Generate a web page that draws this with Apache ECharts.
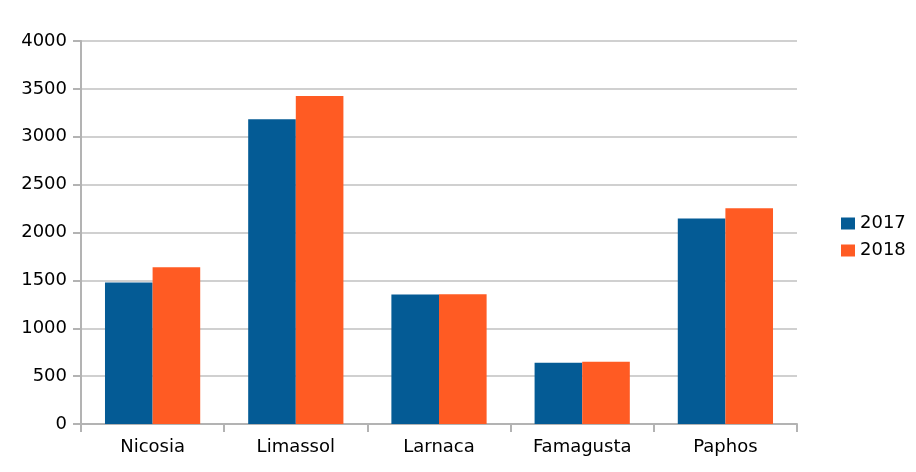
<!DOCTYPE html>
<html>
<head>
<meta charset="utf-8">
<script src="https://cdn.jsdelivr.net/npm/echarts@6/dist/echarts.min.js"></script>
<style>
html,body{margin:0;padding:0;background:#fff;}
#chart{width:916px;height:472px;}
</style>
</head>
<body>
<div id="chart"></div>
<script>
var categories = ['Nicosia', 'Limassol', 'Larnaca', 'Famagusta', 'Paphos'];
var values2017 = [1478, 3182, 1352, 640, 2147];
var values2018 = [1637, 3426, 1356, 650, 2253];
var seriesNames = ['2017', '2018'];
var yTicks = [0, 500, 1000, 1500, 2000, 2500, 3000, 3500, 4000];

var chart = echarts.init(document.getElementById('chart'));
var font = 'DejaVu Sans';
chart.setOption({
  animation: false,
  grid: { left: 81, right: 119, top: 41, bottom: 48, containLabel: false },
  legend: {
    orient: 'vertical',
    left: 841,
    top: 214,
    padding: 0,
    itemWidth: 14,
    itemHeight: 12,
    itemGap: 8,
    icon: 'rect',
    data: seriesNames,
    textStyle: { fontFamily: font, fontSize: 18, color: '#000', lineHeight: 19 }
  },
  xAxis: {
    type: 'category',
    data: categories,
    axisLine: { show: true, lineStyle: { color: '#b3b3b3', width: 2 } },
    axisTick: { show: true, length: 8, lineStyle: { color: '#b3b3b3', width: 2 } },
    axisLabel: { fontFamily: font, fontSize: 18, color: '#000', margin: 14 },
    splitLine: { show: false }
  },
  yAxis: {
    type: 'value',
    min: yTicks[0],
    max: yTicks[yTicks.length - 1],
    interval: 500,
    axisLine: { show: true, lineStyle: { color: '#b3b3b3', width: 2 } },
    axisTick: { show: true, length: 8, lineStyle: { color: '#b3b3b3', width: 2 } },
    axisLabel: { fontFamily: font, fontSize: 18, color: '#000', margin: 14,
      formatter: function (v) { return String(v); } },
    splitLine: { show: true, lineStyle: { color: '#c0c0c0', width: 1.5 } }
  },
  series: [
    {
      name: seriesNames[0], type: 'bar', data: values2017,
      barGap: '0%', barCategoryGap: '33.5%',
      itemStyle: { color: '#045b95' }
    },
    {
      name: seriesNames[1], type: 'bar', data: values2018,
      barGap: '0%', barCategoryGap: '33.5%',
      itemStyle: { color: '#ff5b23' }
    }
  ]
});
</script>
</body>
</html>
